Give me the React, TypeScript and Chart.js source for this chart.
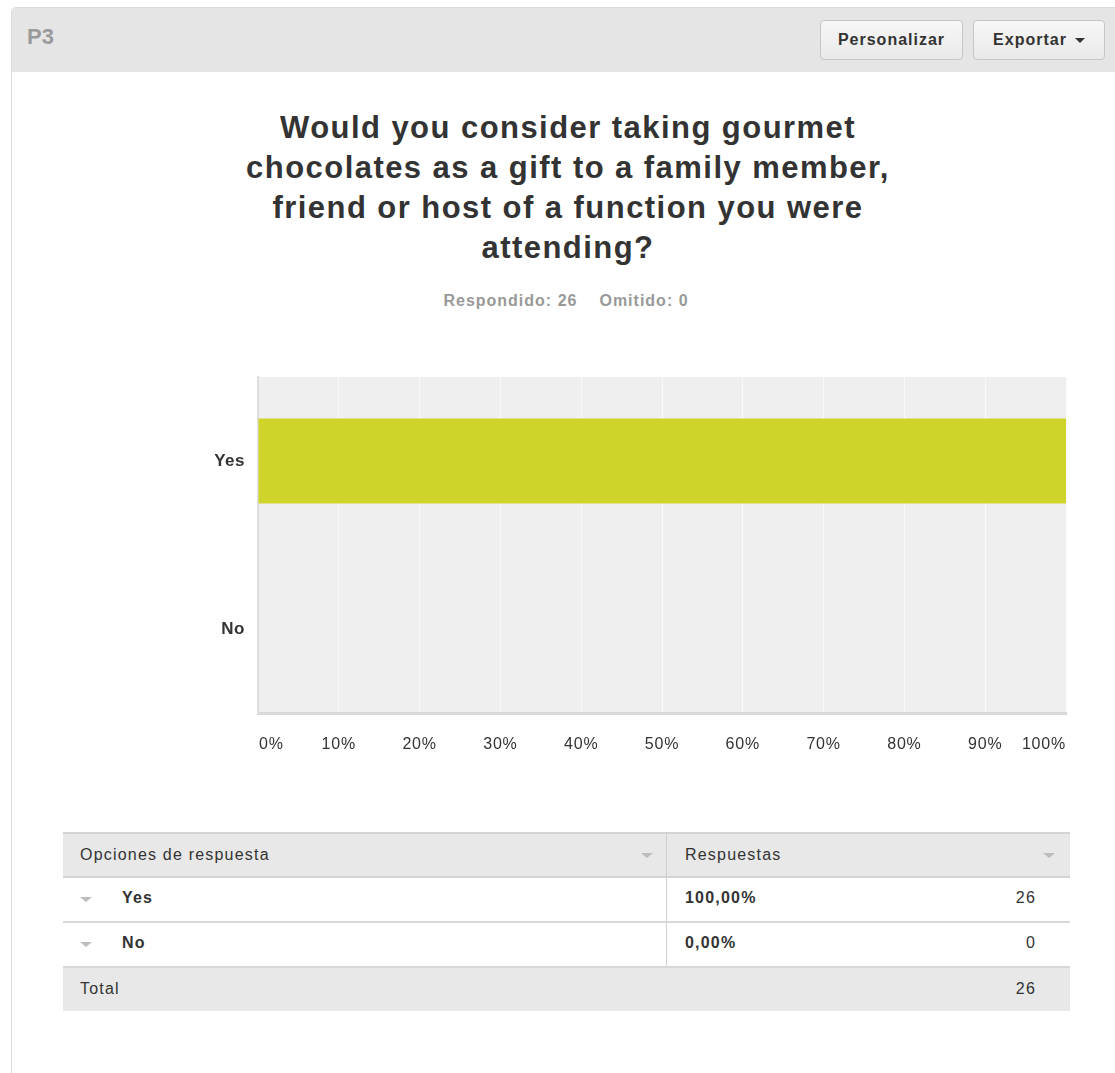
import React, { useEffect, useRef } from "react";
import { Chart, registerables } from "chart.js";

Chart.register(...registerables);

const categories = ["Yes", "No"];
const percentValues = [100, 0];
const responseCounts = [26, 0];
const percentLabels = ["100,00%", "0,00%"];
const xTickValues = [0, 10, 20, 30, 40, 50, 60, 70, 80, 90, 100];
const xTickLabels = ["0%", "10%", "20%", "30%", "40%", "50%", "60%", "70%", "80%", "90%", "100%"];
const questionLabel = "P3";
const titleLines = [
  "Would you consider taking gourmet",
  "chocolates as a gift to a family member,",
  "friend or host of a function you were",
  "attending?",
];
const answeredCount = 26;
const skippedCount = 0;
const totalCount = 26;

const FONT = '"Helvetica Neue", Helvetica, "Liberation Sans", Arial, sans-serif';

const Tri = ({ left, top, color = "#bdbdbd" }: { left: number; top: number; color?: string }) => (
  <div
    style={{
      position: "absolute",
      left,
      top,
      width: 0,
      height: 0,
      borderLeft: "6px solid transparent",
      borderRight: "6px solid transparent",
      borderTop: `5px solid ${color}`,
    }}
  />
);

const bgAndTicks = {
  id: "bgAndTicks",
  beforeDraw(chart: any) {
    const { ctx, chartArea } = chart;
    ctx.save();
    ctx.fillStyle = "#efefef";
    ctx.fillRect(chartArea.left, chartArea.top, chartArea.right - chartArea.left, chartArea.bottom - chartArea.top);
    ctx.restore();
  },
  afterDraw(chart: any) {
    const { ctx } = chart;
    const xs = chart.scales.x;
    const ys = chart.scales.y;
    ctx.save();
    ctx.fillStyle = "#333333";
    ctx.textBaseline = "middle";
    // x tick labels
    ctx.font = `16px ${FONT}`;
    (ctx as any).letterSpacing = "0.8px";
    const y = chart.chartArea.bottom + 32;
    xTickValues.forEach((v, i) => {
      const px = xs.getPixelForValue(v);
      const w = ctx.measureText(xTickLabels[i]).width;
      let x0 = px - w / 2;
      if (i === 0) x0 = px + 1;
      else if (i === xTickValues.length - 1) x0 = px - w;
      ctx.textAlign = "left";
      ctx.fillText(xTickLabels[i], x0, y);
    });
    // y category labels
    ctx.font = `bold 17px ${FONT}`;
    (ctx as any).letterSpacing = "0.5px";
    categories.forEach((c, i) => {
      const py = ys.getPixelForValue(i);
      const w = ctx.measureText(c).width;
      ctx.textAlign = "left";
      ctx.fillText(c, chart.chartArea.left - 13 - w, py);
    });
    ctx.restore();
  },
};

export default function App() {
  const canvasRef = useRef<HTMLCanvasElement | null>(null);

  useEffect(() => {
    document.body.style.margin = "0";
    const canvas = canvasRef.current;
    if (!canvas) return;
    const chart = new Chart(canvas, {
      type: "bar",
      data: {
        labels: categories,
        datasets: [
          {
            data: percentValues,
            backgroundColor: "#cfd42a",
            borderWidth: 0,
            barPercentage: 0.506,
            categoryPercentage: 1,
          },
        ],
      },
      options: {
        indexAxis: "y",
        responsive: false,
        animation: false,
        devicePixelRatio: 1,
        layout: { padding: { left: 0, right: 4, top: 17, bottom: 0 } },
        plugins: { legend: { display: false }, tooltip: { enabled: false }, title: { display: false } },
        scales: {
          x: {
            min: 0,
            max: 100,
            ticks: { display: false, stepSize: 10 },
            grid: { color: "#f9f9f9", lineWidth: 1, drawTicks: false },
            border: { display: true, color: "#d9d9d9", width: 3 },
            afterFit: (scale: any) => {
              scale.height = 77;
            },
          },
          y: {
            ticks: { display: false },
            grid: { display: true, color: "rgba(0,0,0,0)", drawTicks: false },
            border: { display: true, color: "#dedede", width: 2 },
            afterFit: (scale: any) => {
              scale.width = 195;
            },
          },
        },
      },
      plugins: [bgAndTicks],
    });
    return () => chart.destroy();
  }, []);

  const btn: React.CSSProperties = {
    position: "absolute",
    top: 20,
    height: 40,
    border: "1px solid #c6c6c6",
    borderRadius: 4,
    background: "linear-gradient(#f7f7f7, #e9e9e9)",
    boxSizing: "border-box",
    font: `bold 16px ${FONT}`,
    letterSpacing: "1px",
    color: "#333",
    display: "flex",
    alignItems: "center",
    justifyContent: "center",
  };

  const cell: React.CSSProperties = {
    position: "absolute",
    font: `16px ${FONT}`,
    letterSpacing: "1.2px",
    color: "#333",
    lineHeight: "20px",
  };

  return (
    <div style={{ position: "relative", width: 1115, height: 1073, overflow: "hidden", background: "#fff", fontFamily: FONT }}>
      {/* panel */}
      <div
        style={{
          position: "absolute",
          left: 11,
          top: 7,
          width: 1130,
          height: 1100,
          border: "1px solid #dcdcdc",
          borderRadius: 5,
          boxSizing: "border-box",
          overflow: "hidden",
        }}
      >
        <div style={{ position: "absolute", left: 0, top: 0, right: 0, height: 64, background: "#e5e5e5" }} />
      </div>
      <div style={{ position: "absolute", left: 27, top: 24, font: `bold 22px ${FONT}`, lineHeight: "26px", color: "#9a9a9a" }}>{questionLabel}</div>
      <div style={{ ...btn, left: 820, width: 143 }}>Personalizar</div>
      <div style={{ ...btn, left: 973, width: 132 }}>
        Exportar
        <span style={{ display: "inline-block", marginLeft: 8, width: 0, height: 0, borderLeft: "5px solid transparent", borderRight: "5px solid transparent", borderTop: "5px solid #333" }} />
      </div>

      {/* title */}
      <div
        style={{
          position: "absolute",
          left: 0,
          top: 108,
          width: 1136,
          textAlign: "center",
          font: `bold 31px ${FONT}`,
          letterSpacing: "1.45px",
          lineHeight: "40px",
          color: "#333",
        }}
      >
        {titleLines.map((l) => (
          <div key={l}>{l}</div>
        ))}
      </div>
      <div
        style={{
          position: "absolute",
          left: 0,
          width: 1132,
          top: 291,
          textAlign: "center",
          font: `bold 16px ${FONT}`,
          letterSpacing: "1px",
          lineHeight: "20px",
          color: "#999",
        }}
      >
        <span>Respondido: {answeredCount}</span>
        <span style={{ marginLeft: 22 }}>Omitido: {skippedCount}</span>
      </div>

      {/* chart */}
      <div style={{ position: "absolute", left: 63, top: 360, width: 1007, height: 430 }}>
        <canvas ref={canvasRef} width={1007} height={430} />
      </div>

      {/* table */}
      <div style={{ position: "absolute", left: 63, top: 832, width: 1007, height: 46, background: "#e8e8e8", borderTop: "2px solid #d4d4d4", borderBottom: "2px solid #d4d4d4", boxSizing: "border-box" }} />
      <div style={{ ...cell, left: 80, top: 845 }}>Opciones de respuesta</div>
      <Tri left={641} top={853} />
      <div style={{ ...cell, left: 685, top: 845 }}>Respuestas</div>
      <Tri left={1043} top={853} />
      <div style={{ position: "absolute", left: 666, top: 832, width: 1, height: 135, background: "#cfcfcf" }} />

      {categories.map((c, i) => {
        const top = 878 + i * 45;
        return (
          <React.Fragment key={c}>
            <div style={{ position: "absolute", left: 63, top: top + 43, width: 1007, height: 2, background: "#d8d8d8" }} />
            <Tri left={80} top={top + 19} />
            <div style={{ ...cell, left: 122, top: top + 10, fontWeight: "bold" }}>{c}</div>
            <div style={{ ...cell, left: 685, top: top + 10, fontWeight: "bold" }}>{percentLabels[i]}</div>
            <div style={{ ...cell, left: 900, width: 136, textAlign: "right", top: top + 10 }}>{responseCounts[i]}</div>
          </React.Fragment>
        );
      })}

      <div style={{ position: "absolute", left: 63, top: 968, width: 1007, height: 43, background: "#e8e8e8" }} />
      <div style={{ ...cell, left: 80, top: 979 }}>Total</div>
      <div style={{ ...cell, left: 900, width: 136, textAlign: "right", top: 979 }}>{totalCount}</div>
    </div>
  );
}
